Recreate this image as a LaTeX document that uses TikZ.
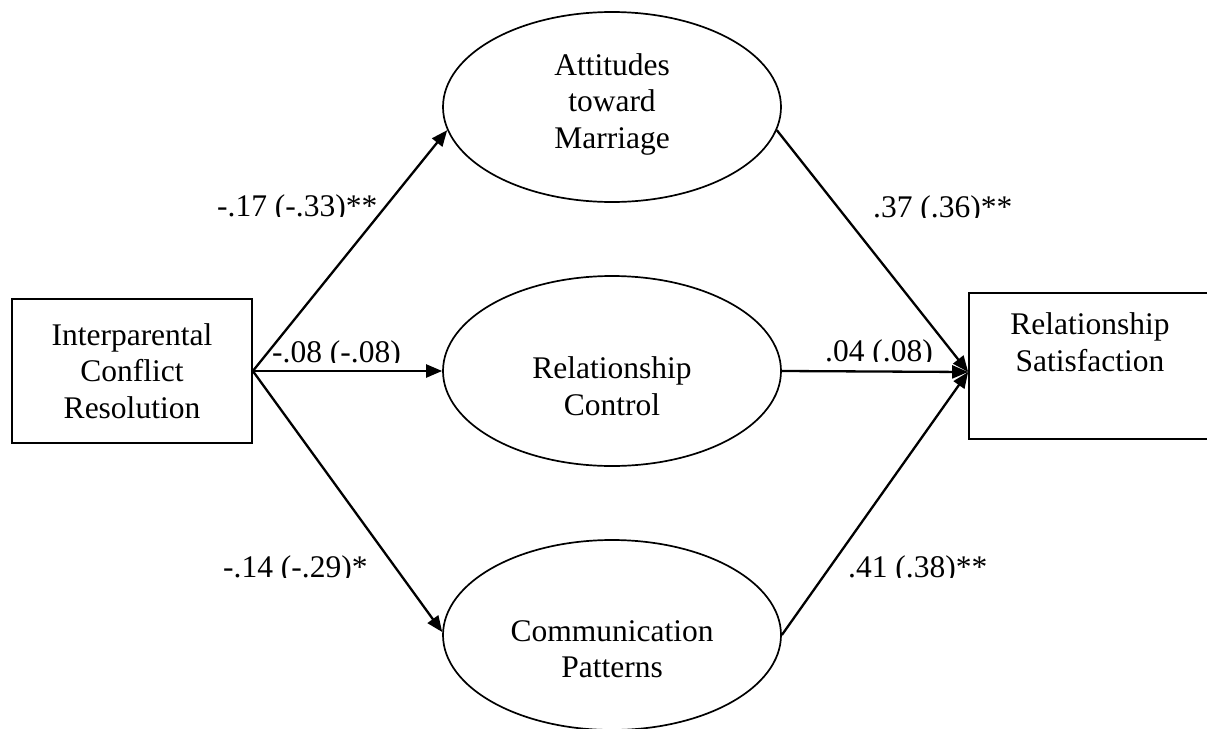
\documentclass[tikz,border=0pt]{standalone}
\usepackage{fontspec}
\setmainfont{Liberation Serif}
\usetikzlibrary{shapes.geometric,arrows.meta,calc}
\begin{document}
\begin{tikzpicture}[x=1pt,y=-1pt,
  every node/.style={font=\fontsize{31.5pt}{36.5pt}\selectfont},
  box/.style={draw, line width=1.7pt, rectangle, minimum width=240pt, minimum height=144pt, inner sep=0pt, align=center},
  oval/.style={draw, line width=1.7pt, ellipse, minimum width=338pt, minimum height=190pt, inner sep=0pt},
  txt/.style={align=center, inner sep=0pt},
  conn/.style={line width=2.3pt, -{Triangle[length=16pt,width=13pt]}},
  coef/.style={anchor=base west, inner sep=0pt}
]
\useasboundingbox (0,0) rectangle (1207,728);

% nodes
\node[box] (L) at (132,371) {Interparental\\Conflict\\Resolution};
\node[box, minimum height=146pt] (R) at (1089,366) {};
\node[txt] (Rt) at (1090,342) {Relationship\\Satisfaction};

\node[oval] (A) at (612,107) {};
\node[txt] (At) at (612,104) {Attitudes\\toward\\Marriage};
\node[oval] (M) at (612,371) {};
\node[txt] (Mt) at (612,386) {Relationship\\Control};
\node[oval] (B) at (612,635) {};
\node[txt] (Bt) at (612,649) {Communication\\Patterns};

\coordinate (Rin) at ($(R.west)+(0,6)$);

% connectors
\draw[conn] (L.east) -- (A.188);
\draw[conn] (L.east) -- (M.west);
\draw[conn] (L.east) -- (B.179);
\draw[conn] (A.-8) -- (Rin);
\draw[conn] (M.east) -- (Rin);
\draw[conn] (B.east) -- (Rin);

% coefficients (text cut at the baseline as in the original)
\begin{scope}
  \clip (210,216) rectangle (400,170);
  \node[coef] (c1) at (217,216) {-.17 (-.33)**};
\end{scope}
\begin{scope}
  \clip (265,362) rectangle (420,316);
  \node[coef] (c2) at (272,362) {-.08 (-.08)};
\end{scope}
\begin{scope}
  \clip (215,577) rectangle (400,531);
  \node[coef] (c3) at (223,577) {-.14 (-.29)*};
\end{scope}
\begin{scope}
  \clip (865,217) rectangle (1040,171);
  \node[coef] (c4) at (873,217) {.37 (.36)**};
\end{scope}
\begin{scope}
  \clip (818,361) rectangle (960,315);
  \node[coef] (c5) at (825,361) {.04 (.08)};
\end{scope}
\begin{scope}
  \clip (840,577) rectangle (1020,531);
  \node[coef] (c6) at (848,577) {.41 (.38)**};
\end{scope}
\end{tikzpicture}
\end{document}
